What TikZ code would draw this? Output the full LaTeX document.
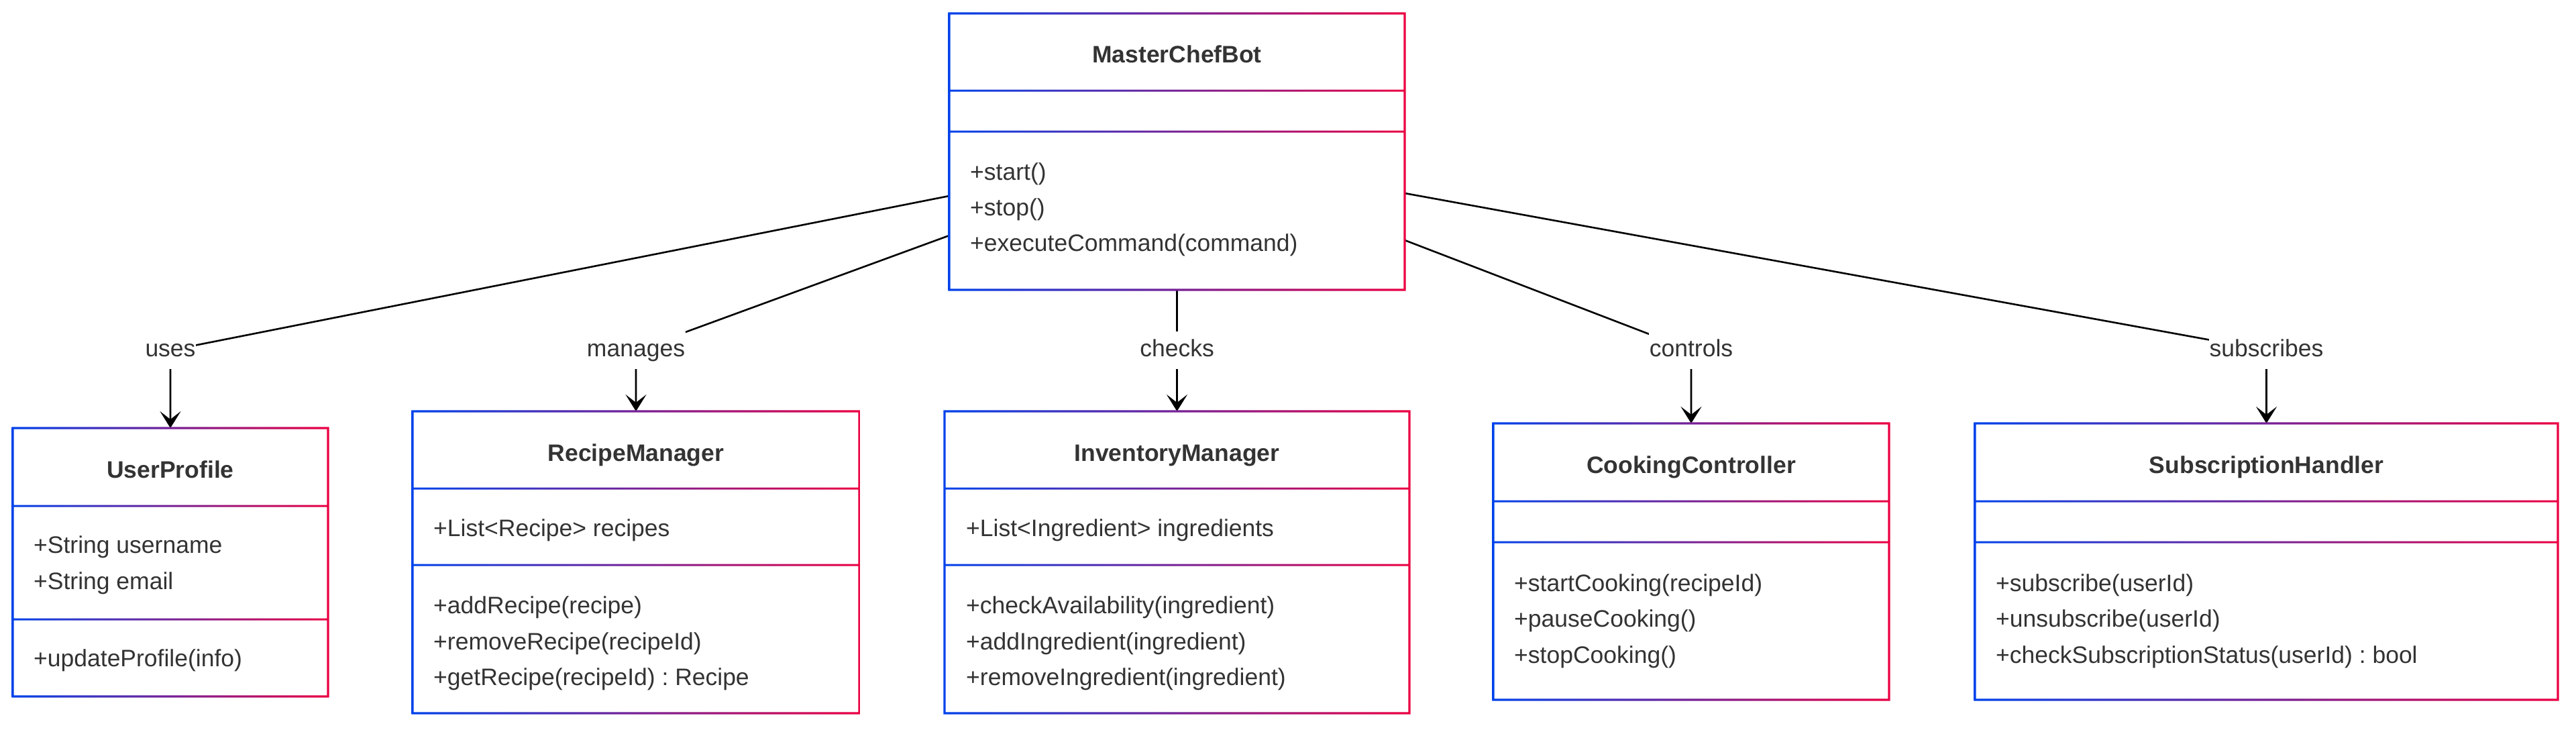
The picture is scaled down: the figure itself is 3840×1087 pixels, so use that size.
\documentclass[tikz,border=0pt]{standalone}
\usepackage{fontspec}
\setmainfont{Liberation Sans}
\usetikzlibrary{arrows.meta}
\definecolor{gblue}{HTML}{0042EB}
\definecolor{gred}{HTML}{EB0042}
\definecolor{txt}{HTML}{333333}
\pgfdeclarelayer{bg}
\pgfsetlayers{bg,main}
\frenchspacing
\tikzset{
  boxnode/.style={rectangle, inner sep=0pt, outer sep=0pt},
  gradborder/.style={left color=gblue, right color=gred, even odd rule},
  member/.style={font=\fontsize{35.5}{42}\selectfont, text=txt, inner sep=0pt, anchor=base west},
  classtitle/.style={font=\fontsize{35.5}{42}\selectfont\bfseries, text=txt, inner sep=0pt, anchor=base},
  rel/.style={font=\fontsize{35.5}{42}\selectfont, text=txt, fill=white, inner xsep=1pt, inner ysep=11pt, text height=26pt, text depth=8pt},
  conn/.style={draw=black, line width=2.6pt, -{Stealth[length=25pt,width=31pt,inset=12pt]}}
}
\newcommand{\umlbox}[7]{% name,left,top,right,d1,d2,bottom
  \node[boxnode, minimum width={#4-#2}, minimum height={#7-#3}] (#1) at ({(#2+#4)/2},{(#3+#7)/2}) {};
  \shade[gradborder] (#2-1.6,#3-1.6) rectangle (#4+1.6,#7+1.6)
    (#2+1.6,#3+1.6) rectangle (#4-1.6,#7-1.6)
    (#2+1.6,#5-1.5) rectangle (#4-1.6,#5+1.5)
    (#2+1.6,#6-1.5) rectangle (#4-1.6,#6+1.5);
}
\begin{document}
\begin{tikzpicture}[x=1pt,y=-1pt]
\begin{pgfonlayer}{bg}
\fill[white] (0,0) rectangle (3840,1087);
\end{pgfonlayer}
\useasboundingbox (0,0) rectangle (3840,1087);

% class boxes
\umlbox{mcb}{1415}{20}{2094}{135}{196}{432}
\umlbox{up}{19}{638}{489}{754}{923}{1038}
\umlbox{rm}{615}{613}{1281}{728}{842}{1063}
\umlbox{im}{1408}{613}{2101}{728}{842}{1063}
\umlbox{cc}{2226}{631}{2816}{747}{808}{1043}
\umlbox{sh}{2944}{631}{3813}{747}{808}{1043}

% MasterChefBot
\node[classtitle] (mcbt) at (1754.5,93) {MasterChefBot};
\node[member] (mcbm1) at (1446,268) {+start()};
\node[member] (mcbm2) at (1446,321) {+stop()};
\node[member] (mcbm3) at (1446,374) {+executeCommand(command)};

% UserProfile
\node[classtitle] (upt) at (254,712) {UserProfile};
\node[member] (upa1) at (50,824) {+String username};
\node[member] (upa2) at (50,878) {+String email};
\node[member] (upm1) at (50,993) {+updateProfile(info)};

% RecipeManager
\node[classtitle] (rmt) at (948,687) {RecipeManager};
\node[member] (rma1) at (646,799) {+List<Recipe> recipes};
\node[member] (rmm1) at (646,914) {+addRecipe(recipe)};
\node[member] (rmm2) at (646,968) {+removeRecipe(recipeId)};
\node[member] (rmm3) at (646,1021) {+getRecipe(recipeId) : Recipe};

% InventoryManager
\node[classtitle] (imt) at (1754.5,687) {InventoryManager};
\node[member] (ima1) at (1440,799) {+List<Ingredient> ingredients};
\node[member] (imm1) at (1440,914) {+checkAvailability(ingredient)};
\node[member] (imm2) at (1440,968) {+addIngredient(ingredient)};
\node[member] (imm3) at (1440,1021) {+removeIngredient(ingredient)};

% CookingController
\node[classtitle] (cct) at (2521,705) {CookingController};
\node[member] (ccm1) at (2257,881) {+startCooking(recipeId)};
\node[member] (ccm2) at (2257,934) {+pauseCooking()};
\node[member] (ccm3) at (2257,988) {+stopCooking()};

% SubscriptionHandler
\node[classtitle] (sht) at (3378.5,705) {SubscriptionHandler};
\node[member] (shm1) at (2975,881) {+subscribe(userId)};
\node[member] (shm2) at (2975,934) {+unsubscribe(userId)};
\node[member] (shm3) at (2975,988) {+checkSubscriptionStatus(userId) : bool};

% relation labels
\node[rel] (luses) at (254,522) {uses};
\node[rel] (lmanages) at (948,522) {manages};
\node[rel] (lchecks) at (1754.5,522) {checks};
\node[rel] (lcontrols) at (2521,522) {controls};
\node[rel] (lsubscribes) at (3378.5,522) {subscribes};

% connectors
\begin{pgfonlayer}{bg}
\draw[conn] ([yshift=-66pt]mcb.west) -- (luses.center) -- (up.north);
\draw[conn] ([yshift=-125pt]mcb.west) -- (lmanages.center) -- (rm.north);
\draw[conn] (mcb.south) -- (lchecks.center) -- (im.north);
\draw[conn] ([yshift=-132pt]mcb.east) -- (lcontrols.center) -- (cc.north);
\draw[conn] ([yshift=-62pt]mcb.east) -- (lsubscribes.center) -- (sh.north);
\end{pgfonlayer}
\end{tikzpicture}
\end{document}
